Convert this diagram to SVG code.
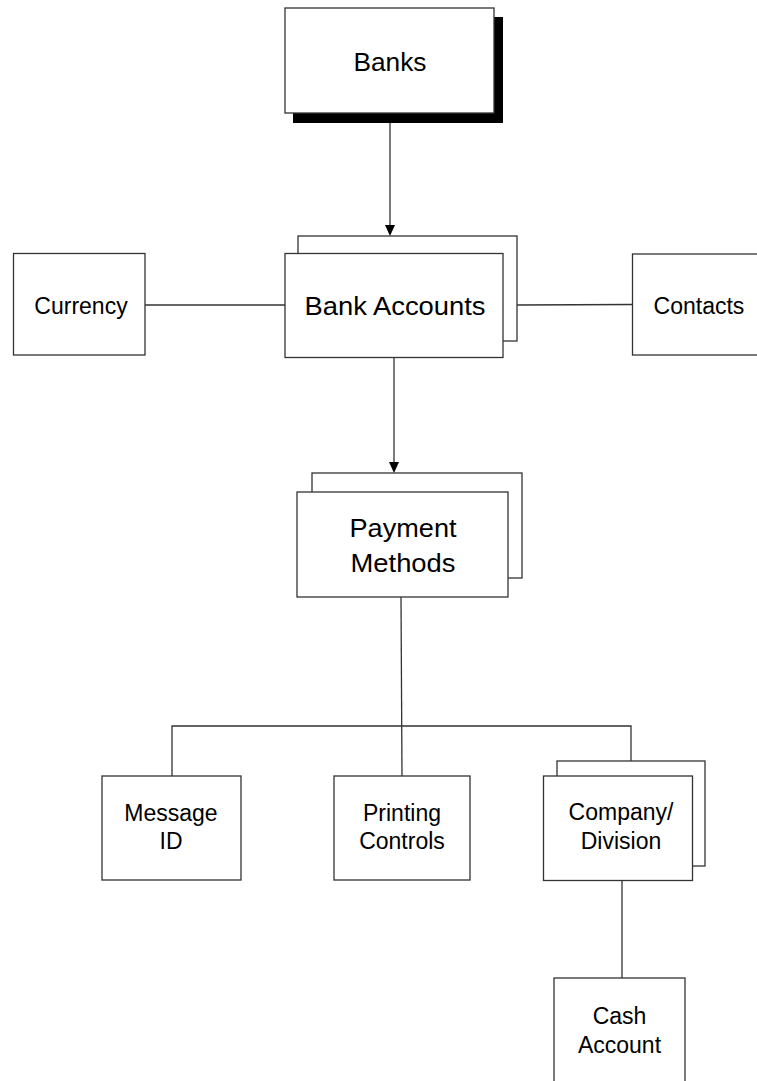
<svg xmlns="http://www.w3.org/2000/svg" width="757" height="1081" viewBox="0 0 757 1081">
<style>
.box{fill:#fff;stroke:#333;stroke-width:1.3}
.ln{fill:none;stroke:#333;stroke-width:1.3}
.t{font-family:"Liberation Sans",Arial,sans-serif;fill:#000;text-anchor:middle}
.big{font-size:26px}
.sm{font-size:23px}
.arr{fill:#000}
</style>
<rect width="757" height="1081" fill="#fff"/>
<g id="connectors">
<line class="ln" x1="390" y1="123" x2="390" y2="225"/>
<path class="arr" d="M385,225 L395,225 L390,236 Z"/>
<line class="ln" x1="394" y1="357" x2="394" y2="462"/>
<path class="arr" d="M389,462 L399,462 L394,473 Z"/>
<line class="ln" x1="145" y1="305" x2="285" y2="305"/>
<line class="ln" x1="517" y1="305" x2="632" y2="304.5"/>
<line class="ln" x1="401" y1="597" x2="402" y2="776"/>
<polyline class="ln" points="172,776 172,726 631,726 631,761"/>
<line class="ln" x1="622" y1="881" x2="622" y2="978"/>
</g>
<g id="banks">
<rect x="293" y="17" width="210" height="106" fill="#000"/>
<rect class="box" x="285" y="8" width="209" height="105"/>
<text class="t big" x="390" y="71" textLength="73" lengthAdjust="spacingAndGlyphs">Banks</text>
</g>
<g id="currency">
<rect class="box" x="13.5" y="253.5" width="131.5" height="101.5"/>
<text class="t sm" x="81" y="314">Currency</text>
</g>
<g id="bank-accounts">
<rect class="box" x="298" y="236" width="219" height="105"/>
<rect class="box" x="285" y="253.5" width="218" height="104"/>
<text class="t big" x="395" y="315" textLength="181" lengthAdjust="spacingAndGlyphs">Bank Accounts</text>
</g>
<g id="contacts">
<rect class="box" x="632.5" y="254" width="140" height="101"/>
<text class="t sm" x="699" y="313.5">Contacts</text>
</g>
<g id="payment-methods">
<rect class="box" x="312" y="473" width="210" height="105"/>
<rect class="box" x="297" y="492" width="211" height="105"/>
<text class="t big" x="403" y="537" textLength="107" lengthAdjust="spacingAndGlyphs">Payment</text>
<text class="t big" x="403" y="572" textLength="105" lengthAdjust="spacingAndGlyphs">Methods</text>
</g>
<g id="message-id">
<rect class="box" x="102" y="776" width="139" height="104"/>
<text class="t sm" x="171" y="821">Message</text>
<text class="t sm" x="171" y="849">ID</text>
</g>
<g id="printing-controls">
<rect class="box" x="334" y="776" width="136" height="104"/>
<text class="t sm" x="402" y="821">Printing</text>
<text class="t sm" x="402" y="849">Controls</text>
</g>
<g id="company-division">
<rect class="box" x="557" y="761" width="148" height="105"/>
<rect class="box" x="543.5" y="776" width="149" height="104.5"/>
<text class="t sm" x="621" y="820">Company/</text>
<text class="t sm" x="621" y="849">Division</text>
</g>
<g id="cash-account">
<rect class="box" x="554" y="978" width="131" height="112"/>
<text class="t sm" x="619.5" y="1024">Cash</text>
<text class="t sm" x="619.5" y="1053">Account</text>
</g>
</svg>
